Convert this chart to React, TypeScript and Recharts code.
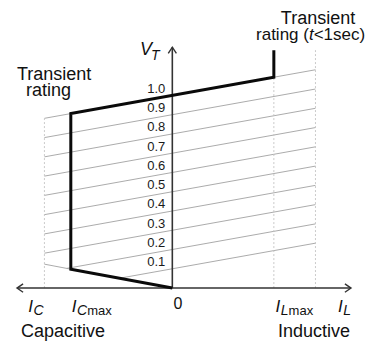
import React from 'react';
import { ComposedChart, Line, Scatter, XAxis, YAxis } from 'recharts';

// Voltage levels (per unit) of the thin constant-slope lines, labelled on the V_T axis
const voltageLevels = [0.1, 0.2, 0.3, 0.4, 0.5, 0.6, 0.7, 0.8, 0.9, 1.0];
const voltageLabels = ['0.1', '0.2', '0.3', '0.4', '0.5', '0.6', '0.7', '0.8', '0.9', '1.0'];

// Thin slope lines: start (left) and end (right) points
const slopeStartI = [-0.52, -1.04, -1.26, -1.26, -1.26, -1.26, -1.26, -1.26, -1.26, -1.26];
const slopeStartV = [0.051, 0.102, 0.181, 0.281, 0.381, 0.481, 0.581, 0.681, 0.781, 0.881];
const slopeEndI = [1.41, 1.41, 1.41, 1.41, 1.41, 1.41, 1.41, 1.41, 1.41, 1.41];
const slopeEndV = [0.233, 0.333, 0.433, 0.533, 0.633, 0.733, 0.833, 0.933, 1.033, 1.133];

// Thick operating limit: origin -> I_Cmax -> transient rating -> I_Lmax -> transient rating (t<1sec)
const limitI = [0, -1, -1, 1, 1];
const limitV = [0, 0.098, 0.906, 1.094, 1.235];

// Thin extension of the capacitive line
const capExtI = [-1, -1.26];
const capExtV = [0.098, 0.124];

// Dotted vertical guides
const guideI = [-1.26, 1, 1.41];
const guideTopV = [0.881, 1.094, 1.235];

// Axes
const currentAxisI = [-1.53, 1.76];
const voltageAxisV = [0, 1.25];

// Current axis labels
const currentTickI = [-1.42, -0.99, 0.012, 1.017, 1.633];
const currentTickV = [-0.125, -0.125, -0.109, -0.125, -0.125];
const currentTickMain = ['I', 'I', '0', 'I', 'I'];
const currentTickSub = ['C', 'C', '', 'L', 'L'];
const currentTickSuffix = ['', 'max', '', 'max', ''];

// Annotations
const annotationText = ['Transient', 'rating (t<1sec)', 'Transient', 'rating', 'Capacitive', 'Inductive'];
const annotationI = [1.435, 1.362, -1.164, -1.22, -1.49, 1.041];
const annotationV = [1.372, 1.287, 1.082, 0.997, -0.252, -0.252];
const annotationAnchor = ['middle', 'middle', 'middle', 'middle', 'start', 'start'];

const FONT = '"Liberation Sans", Arial, Helvetica, sans-serif';

const seg = (i: number[], v: number[]) => i.map((x, k) => ({ x, v: v[k] }));

const slopeLines = voltageLevels.map((_, k) =>
  seg([slopeStartI[k], slopeEndI[k]], [slopeStartV[k], slopeEndV[k]])
);
const guideLines = guideI.map((x, k) => seg([x, x], [0, guideTopV[k]]));

const xArrowLeft = seg([-1.47, -1.53, -1.47], [0.022, 0, -0.022]);
const xArrowRight = seg([1.70, 1.76, 1.70], [0.022, 0, -0.022]);
const yArrow = seg([-0.04, 0, 0.04], [1.218, 1.25, 1.218]);

const voltageLabelData = voltageLevels.map((v, k) => ({ x: 0, v, label: voltageLabels[k] }));
const currentTickData = currentTickI.map((x, k) => ({
  x,
  v: currentTickV[k],
  main: currentTickMain[k],
  sub: currentTickSub[k],
  suffix: currentTickSuffix[k],
}));
const annotationData = annotationText.map((t, k) => ({
  x: annotationI[k],
  v: annotationV[k],
  text: t,
  anchor: annotationAnchor[k],
}));
const vtLabelData = [{ x: -0.318, v: 1.209 }];

const VoltageLabel = (p: any) => (
  <text x={p.cx - 7} y={p.cy - 2.5} textAnchor="end" fontFamily={FONT} fontSize={13} fill="#1a1a1a">
    {p.payload.label}
  </text>
);

const CurrentTick = (p: any) => {
  const d = p.payload;
  if (d.main === '0') {
    return (
      <text x={p.cx} y={p.cy} fontFamily={FONT} fontSize={16} fill="#111">
        0
      </text>
    );
  }
  return (
    <text x={p.cx} y={p.cy} fontFamily={FONT} fill="#111">
      <tspan fontStyle="italic" fontSize={17}>{d.main}</tspan>
      <tspan fontStyle="italic" fontSize={14} dy={3} dx={0.5}>{d.sub}</tspan>
      {d.suffix ? <tspan fontSize={13}>{d.suffix}</tspan> : null}
    </text>
  );
};

const Annotation = (p: any) => {
  const d = p.payload;
  if (d.text === 'rating (t<1sec)') {
    return (
      <text x={p.cx} y={p.cy} textAnchor="middle" fontFamily={FONT} fontSize={17} fill="#111">
        rating (<tspan fontStyle="italic">t</tspan>&lt;1sec)
      </text>
    );
  }
  return (
    <text x={p.cx} y={p.cy} textAnchor={d.anchor} fontFamily={FONT} fontSize={18} fill="#111">
      {d.text}
    </text>
  );
};

const VtLabel = (p: any) => (
  <text x={p.cx} y={p.cy} fontFamily={FONT} fill="#111">
    <tspan fontStyle="italic" fontSize={18}>V</tspan>
    <tspan fontStyle="italic" fontSize={14} dy={5} dx={-1}>T</tspan>
  </text>
);

export default function App() {
  return (
    <div style={{ position: 'absolute', left: 0, top: 0, background: '#fff' }}>
      <ComposedChart width={378} height={343} margin={{ top: 1, right: 27, bottom: 1, left: 17 }}>
        <XAxis type="number" dataKey="x" domain={[-1.53, 1.76]} hide />
        <YAxis type="number" dataKey="v" domain={[-0.28, 1.49]} hide />

        {slopeLines.map((d, k) => (
          <Line
            key={'s' + k}
            data={d}
            dataKey="v"
            stroke="#a2a2a2"
            strokeWidth={0.9}
            dot={false}
            activeDot={false}
            isAnimationActive={false}
          />
        ))}
        <Line data={seg(capExtI, capExtV)} dataKey="v" stroke="#a2a2a2" strokeWidth={0.9} dot={false} activeDot={false} isAnimationActive={false} />
        {guideLines.map((d, k) => (
          <Line
            key={'g' + k}
            data={d}
            dataKey="v"
            stroke="#c4c4c4"
            strokeWidth={0.9}
            strokeDasharray="2 2"
            dot={false}
            activeDot={false}
            isAnimationActive={false}
          />
        ))}

        <Line data={seg(currentAxisI, [0, 0])} dataKey="v" stroke="#333" strokeWidth={1.6} dot={false} activeDot={false} isAnimationActive={false} />
        <Line data={seg([0, 0], voltageAxisV)} dataKey="v" stroke="#333" strokeWidth={1.6} dot={false} activeDot={false} isAnimationActive={false} />
        <Line data={xArrowLeft} dataKey="v" stroke="#333" strokeWidth={1.4} dot={false} activeDot={false} isAnimationActive={false} />
        <Line data={xArrowRight} dataKey="v" stroke="#333" strokeWidth={1.4} dot={false} activeDot={false} isAnimationActive={false} />
        <Line data={yArrow} dataKey="v" stroke="#333" strokeWidth={1.4} dot={false} activeDot={false} isAnimationActive={false} />

        <Line
          data={seg(limitI, limitV)}
          dataKey="v"
          stroke="#0a0a0a"
          strokeWidth={3}
          strokeLinejoin="miter"
          dot={false}
          activeDot={false}
          isAnimationActive={false}
        />

        <Scatter data={voltageLabelData} shape={VoltageLabel} isAnimationActive={false} />
        <Scatter data={currentTickData} shape={CurrentTick} isAnimationActive={false} />
        <Scatter data={annotationData} shape={Annotation} isAnimationActive={false} />
        <Scatter data={vtLabelData} shape={VtLabel} isAnimationActive={false} />
      </ComposedChart>
    </div>
  );
}
